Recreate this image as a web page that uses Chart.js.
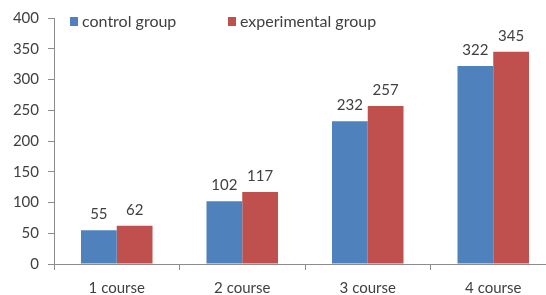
<!DOCTYPE html>
<html><head><meta charset="utf-8">
<script src="https://cdn.jsdelivr.net/npm/chart.js@4/dist/chart.umd.min.js"></script>
<style>html,body{margin:0;padding:0;background:#fff;overflow:hidden}#wrap{width:546px;height:295px;overflow:hidden}</style>
</head><body><div id="wrap"><canvas id="c" width="560" height="295"></canvas></div>
<script>
const categories = ["1 course", "2 course", "3 course", "4 course"];
const seriesNames = ["control group", "experimental group"];
const controlValues = [55, 102, 232, 322];
const experimentalValues = [62, 117, 257, 345];
const yTicks = [0, 50, 100, 150, 200, 250, 300, 350, 400];

const FONT = "Lato, 'Open Sans', sans-serif";
const TXT = "#404040";

const labelPlugin = {
  id: "labels",
  afterDatasetsDraw(chart) {
    const ctx = chart.ctx;
    ctx.save();
    ctx.font = "15px " + FONT;
    ctx.fillStyle = TXT;
    ctx.textAlign = "center";
    ctx.textBaseline = "alphabetic";
    chart.data.datasets.forEach((ds, i) => {
      chart.getDatasetMeta(i).data.forEach((bar, j) => {
        ctx.fillText(String(ds.data[j]), bar.x, bar.y - 11);
      });
    });
    // legend
    const ly = 21.5;
    const xs = [70, 228];
    ctx.font = "16px " + FONT;
    chart.data.datasets.forEach((ds, i) => {
      ctx.fillStyle = ds.backgroundColor;
      ctx.fillRect(xs[i], ly - 4.5, 8, 9);
      ctx.fillStyle = TXT;
      ctx.textAlign = "left";
      ctx.textBaseline = "middle";
      ctx.fillText(ds.label, xs[i] + 12, ly);
    });
    ctx.restore();
  }
};

new Chart(document.getElementById("c"), {
  type: "bar",
  data: {
    labels: categories,
    datasets: [
      { label: seriesNames[0], data: controlValues, backgroundColor: "#4F81BD" },
      { label: seriesNames[1], data: experimentalValues, backgroundColor: "#C0504D" }
    ]
  },
  options: {
    responsive: false,
    animation: false,
    devicePixelRatio: 1,
    layout: { padding: { top: 16, right: 4, left: 0, bottom: 0 } },
    datasets: { bar: { categoryPercentage: 0.57, barPercentage: 1.0 } },
    plugins: { legend: { display: false }, tooltip: { enabled: false } },
    scales: {
      x: {
        grid: { display: true, drawOnChartArea: false, drawTicks: true, tickLength: 6, color: "#8c8c8c", offset: true },
        border: { color: "#8c8c8c" },
        ticks: { color: TXT, font: { family: FONT, size: 15 }, padding: 9 },
        afterFit(s) { s.height = 31; }
      },
      y: {
        min: 0, max: 400,
        afterBuildTicks(s) { s.ticks = yTicks.map(v => ({ value: v })); },
        grid: { display: true, drawOnChartArea: false, drawTicks: true, tickLength: 6, color: "#8c8c8c" },
        border: { color: "#8c8c8c" },
        ticks: { color: TXT, font: { family: FONT, size: 15 }, padding: 9 },
        afterFit(s) { s.width = 54; }
      }
    }
  },
  plugins: [labelPlugin]
});
</script></body></html>
